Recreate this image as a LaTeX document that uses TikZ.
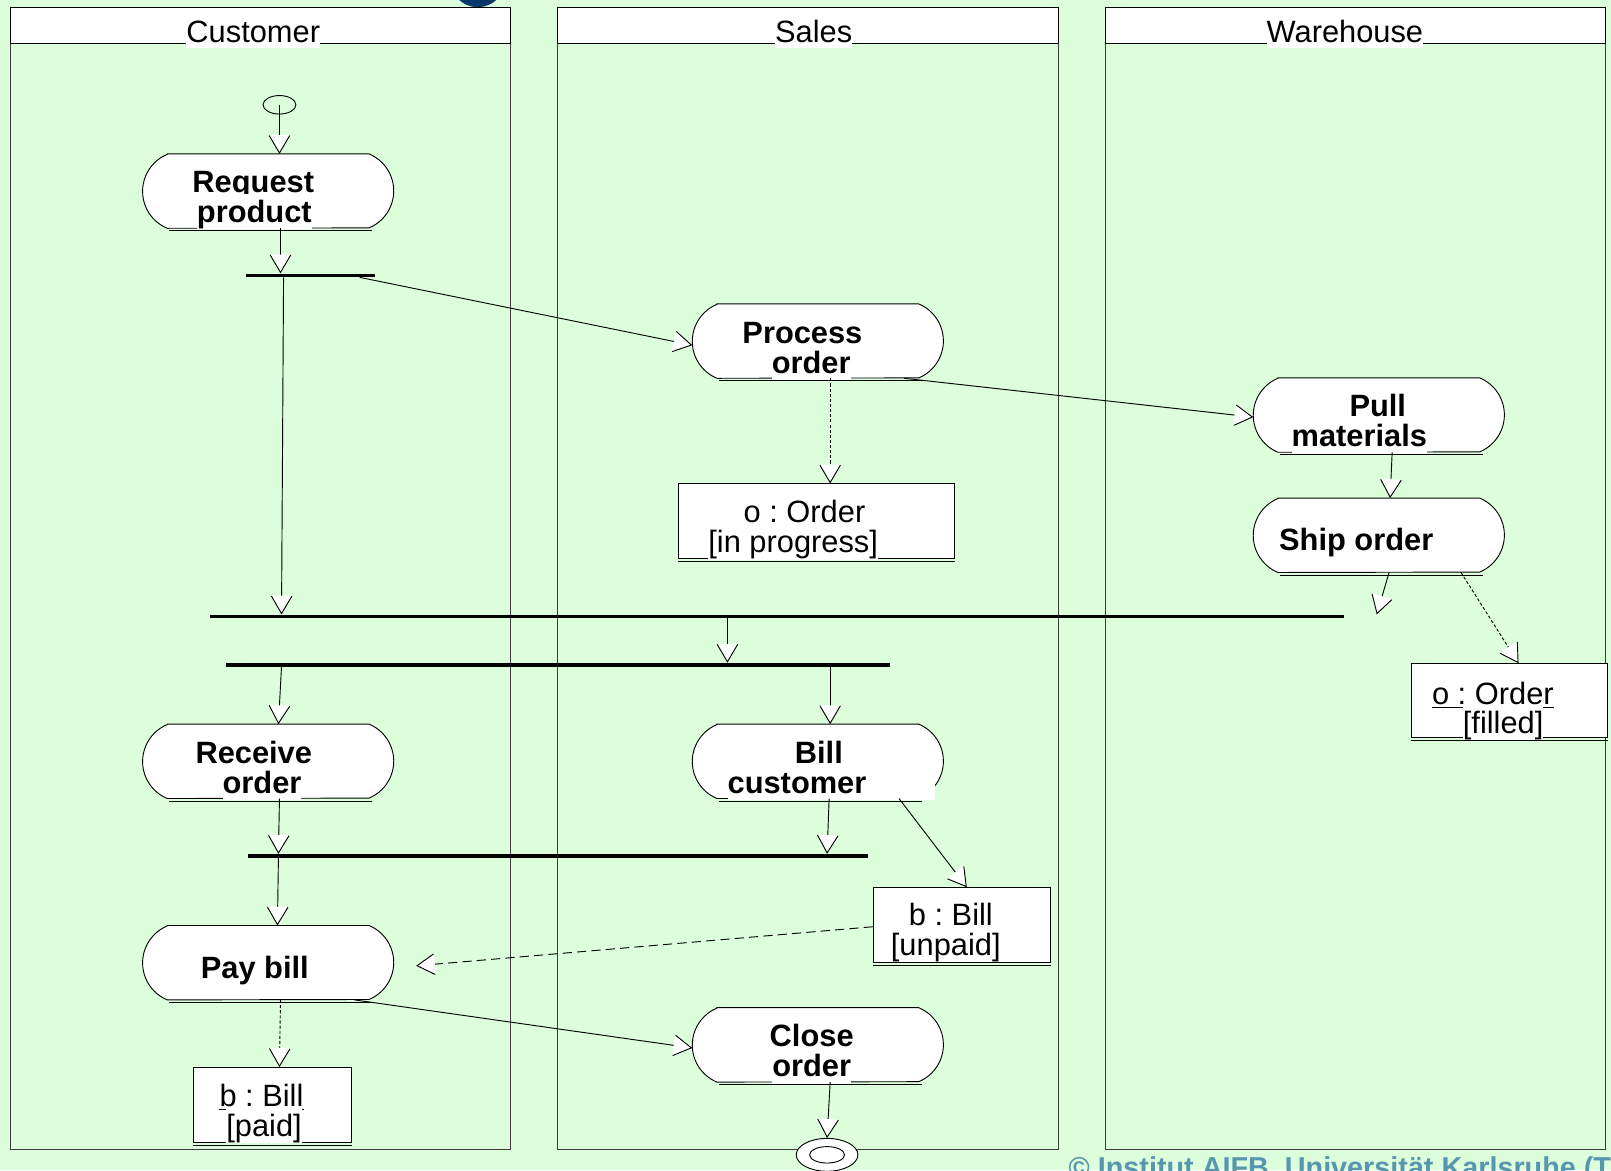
\documentclass[tikz,border=0pt]{standalone}
\usepackage{fontspec}
\setmainfont{Liberation Sans}
\usetikzlibrary{arrows.meta,calc,shapes.geometric}
\definecolor{lanegreen}{RGB}{220,254,218}
\definecolor{lanegray}{RGB}{60,60,60}
\definecolor{aifbblue}{RGB}{88,150,176}
\definecolor{navydot}{RGB}{10,55,105}
\frenchspacing
\newcommand\actoutline[1]{%
  \draw[actline] ([xshift=24pt]#1.north west) -- ([xshift=-24pt]#1.north east)
    arc[start angle=67.4, end angle=-67.4, radius=39pt]
    -- ([xshift=24pt]#1.south west)
    arc[start angle=247.4, end angle=112.6, radius=39pt] -- cycle;
  \draw[line width=0.9pt] ([xshift=26pt,yshift=-2.5pt]#1.south west) -- ([xshift=-21pt,yshift=-2.5pt]#1.south east);
}
\newcommand\objunder[1]{%
  \draw[line width=0.9pt] ([yshift=-2.5pt]#1.south west) -- ([yshift=-2.5pt]#1.south east);
}
\begin{document}
\begin{tikzpicture}[x=1pt,y=1pt,
  flow/.style={line width=0.9pt, -{Triangle[color=white,fill=white,length=17pt,width=20pt,sep=-17pt]Straight Barb[length=17pt,width=20pt]}},
  objflow/.style={flow, dash pattern=on 3pt off 2pt},
  objflowlong/.style={flow, dash pattern=on 9pt off 5pt},
  bar/.style={fill=black, inner sep=0pt, minimum height=3.5pt, draw=none},
  act/.style={inner sep=0pt, minimum width=244pt, minimum height=72pt},
  actline/.style={draw=black, fill=white, line width=0.9pt},
  obj/.style={draw=black, fill=white, line width=0.9pt, inner sep=0pt},
  lbl/.style={fill=white, inner sep=0pt, anchor=base, text height=28pt, text depth=6.6pt, font=\fontsize{30}{30}\selectfont},
  albl/.style={lbl, font=\bfseries\fontsize{30}{30}\selectfont},
  title/.style={lbl, text height=22.5pt, text depth=6pt}
]
\useasboundingbox (0,0) rectangle (1568,-1139);
\clip (0,0) rectangle (1568,-1139);
\fill[lanegreen] (0,0) rectangle (1568,-1139);
\fill[navydot] (465,20) circle[radius=27];

% swimlanes
\foreach \a/\b in {10/497, 543/1030, 1076/1563} {
  \filldraw[fill=lanegreen, draw=lanegray, line width=1pt] (\a,-42) rectangle (\b,-1119);
  \filldraw[fill=white, draw=black, line width=1pt] (\a,-7) rectangle (\b,-42);
}
\node[title] (tcust) at (246.5,-41) {Customer};
\node[title] (tsales) at (792,-41) {Sales};
\node[title] (tware) at (1309,-41) {Warehouse};

% start
\node[draw=black, line width=0.9pt, ellipse, minimum width=32pt, minimum height=18pt, inner sep=0pt] (start) at (272,-102) {};

% action nodes (outlines drawn around them)
\node[act] (req) at (261,-186) {};
\node[act] (proc) at (796,-332) {};
\node[act] (pull) at (1342,-404) {};
\node[act] (ship) at (1342,-521) {};
\node[act] (recv) at (261,-741) {};
\node[act] (bill) at (796,-741) {};
\node[act] (pay) at (261,-937) {};
\node[act] (close) at (796,-1017) {};
\foreach \n in {req,proc,pull,ship,recv,bill,pay,close} {\actoutline{\n}}

\node[albl] (req1) at (246.5,-187) {Request};
\node[albl] (req2) at (247.5,-216.5) {product};
\node[albl] (proc1) at (781,-334) {Process};
\node[albl] (proc2) at (789.5,-363.5) {order};
\node[albl] (pull1) at (1341,-405) {Pull};
\node[albl] (pull2) at (1323,-435) {materials};
\node[albl] (ship1) at (1320,-536) {Ship order};
\node[albl] (recv1) at (247,-743) {Receive};
\node[albl] (recv2) at (255,-772) {order};
\node[albl] (bill1) at (797,-743) {Bill};
\node[albl, anchor=base west, text width=202pt, align=left] (bill2) at (708,-772) {customer};
\node[albl] (pay1) at (248,-952) {Pay bill};
\node[albl] (close1) at (790,-1019) {Close};
\node[albl] (close2) at (790,-1048) {order};

% object nodes
\node[obj, minimum width=269pt, minimum height=73pt] (o1) at (794.5,-507.5) {};
\node[obj, minimum width=191pt, minimum height=72pt] (o2) at (1469.5,-682) {};
\node[obj, minimum width=172pt, minimum height=73pt] (ob1) at (936,-900.5) {};
\node[obj, minimum width=154pt, minimum height=73pt] (ob2) at (265,-1075.5) {};
\foreach \n in {o1,o2,ob1,ob2} {\objunder{\n}}

\node[lbl] (o1a) at (783,-509) {o : Order};
\draw[line width=0.9pt] ([yshift=-2.5pt]o1a.base west) -- ([yshift=-2.5pt]o1a.base east);
\node[lbl] (o1b) at (772,-538) {[in progress]};
\node[lbl] (o2a) at (1453,-686) {o : Order};
\draw[line width=0.9pt] ([yshift=-2.5pt]o2a.base west) -- ([yshift=-2.5pt]o2a.base east);
\node[lbl] (o2b) at (1463,-714) {[filled]};
\node[lbl] (ob1a) at (925.5,-901) {b : Bill};
\draw[line width=0.9pt] ([yshift=-2.5pt]ob1a.base west) -- ([yshift=-2.5pt]ob1a.base east);
\node[lbl] (ob1b) at (920.5,-930) {[unpaid]};
\node[lbl] (ob2a) at (254.5,-1077) {b : Bill};
\draw[line width=0.9pt] ([yshift=-2.5pt]ob2a.base west) -- ([yshift=-2.5pt]ob2a.base east);
\node[lbl] (ob2b) at (257,-1106) {[paid]};

% synchronisation bars
\node[bar, minimum width=126pt] (b1) at (302,-268) {};
\node[bar, minimum width=1104pt] (b3) at (756,-600) {};
\node[bar, minimum width=646pt] (b4) at (543,-647) {};
\node[bar, minimum width=604pt] (b5) at (543,-833) {};

% end
\node[draw=black, line width=0.9pt, fill=white, ellipse, minimum width=60pt, minimum height=32pt, inner sep=0pt] (end) at (805,-1124) {};
\draw[line width=0.9pt] (end.center) ellipse[x radius=17, y radius=8];

\coordinate (h1) at (1340,-598);
\coordinate (q1) at (405,-940);

% control flows
\draw[flow] (start.center) -- ([xshift=11pt]req.north);
\draw[flow] ([xshift=12pt]req.south) -- ([xshift=-29pt]b1.north);
\draw[flow] ([xshift=-26pt]b1.south) -- ([xshift=-482pt]b3.north);
\draw[flow] ([xshift=48pt]b1.south) -- ([yshift=-4pt]proc.west);
\draw[flow] ([xshift=84pt]proc.south) -- ([yshift=-2pt]pull.west);
\draw[objflow] ([xshift=12pt]proc.south) -- ([xshift=13.5pt]o1.north);
\draw[flow] ([xshift=13pt]pull.south) -- ([xshift=11pt]ship.north);
\draw[flow] ([xshift=10pt]ship.south) -- (h1);
\draw[objflow] ([xshift=80pt]ship.south) -- ([xshift=8.5pt]o2.north);
\draw[flow] ([xshift=-48pt]b3.south) -- ([xshift=165pt]b4.north);
\draw[flow] ([xshift=-269pt]b4.south) -- ([xshift=10pt]recv.north);
\draw[flow] ([xshift=265pt]b4.south) -- ([xshift=12pt]bill.north);
\draw[flow] ([xshift=11pt]recv.south) -- ([xshift=-272pt]b5.north);
\draw[flow] ([xshift=11pt]bill.south) -- ([xshift=262pt]b5.north);
\draw[flow] ([xshift=79pt]bill.south) -- ([xshift=5pt]ob1.north);
\draw[flow] ([xshift=-272pt]b5.south) -- ([xshift=9pt]pay.north);
\draw[objflowlong] ([yshift=-1.5pt]ob1.west) -- (q1);
\draw[flow] ([xshift=84pt]pay.south) -- ([yshift=-3pt]close.west);
\draw[objflow] ([xshift=12pt]pay.south) -- ([xshift=7pt]ob2.north);
\draw[flow] ([xshift=12pt]close.south) -- (end.north);

% footer
\node[anchor=base west, inner sep=0pt, text=aifbblue, font=\bfseries\fontsize{28}{28}\selectfont] (copy) at (1040,-1146) {© Institut AIFB, Universität Karlsruhe (TH)};
\end{tikzpicture}
\end{document}
